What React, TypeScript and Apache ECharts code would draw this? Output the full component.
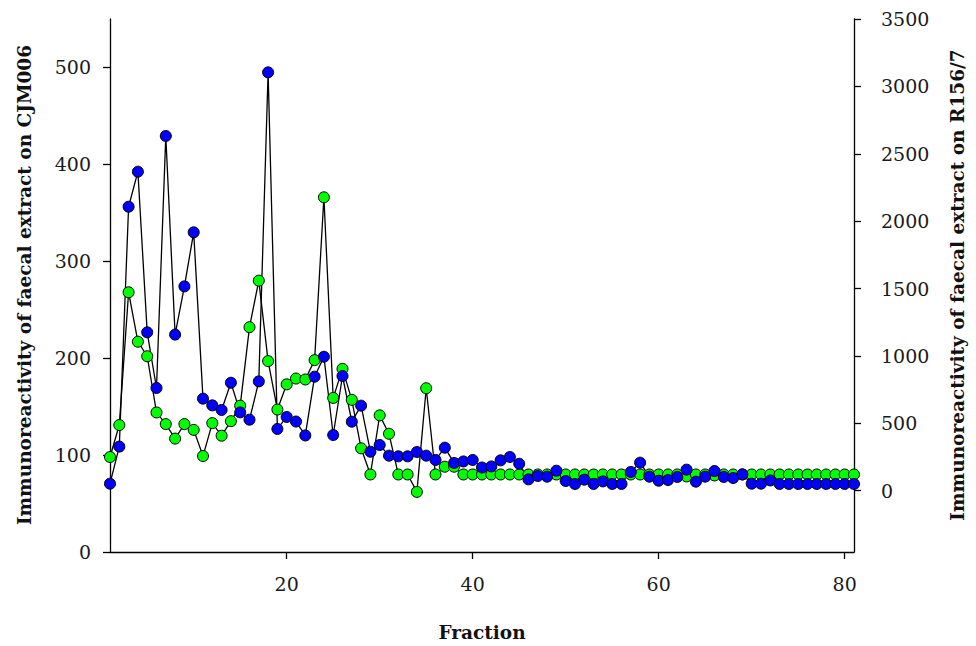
import React, { useEffect, useRef } from "react";
import * as echarts from "echarts";

const fractions = [
  1, 2, 3, 4, 5, 6, 7, 8, 9, 10, 11, 12, 13, 14, 15, 16, 17, 18, 19, 20,
  21, 22, 23, 24, 25, 26, 27, 28, 29, 30, 31, 32, 33, 34, 35, 36, 37, 38, 39, 40,
  41, 42, 43, 44, 45, 46, 47, 48, 49, 50, 51, 52, 53, 54, 55, 56, 57, 58, 59, 60,
  61, 62, 63, 64, 65, 66, 67, 68, 69, 70, 71, 72, 73, 74, 75, 76, 77, 78, 79, 80, 81,
];

// Immunoreactivity on CJM006 (left axis) – green
const cjm006 = [
  98, 131, 268, 217, 202, 144, 132, 117, 132, 126, 99, 133, 120, 135, 151, 232, 280, 197, 147, 173,
  179, 178, 198, 366, 159, 189, 157, 107, 80, 141, 122, 80, 80, 62, 169, 80, 88, 88, 80, 80,
  80, 80, 80, 80, 80, 80, 80, 80, 80, 80, 80, 80, 80, 80, 80, 80, 80, 80, 80, 80,
  80, 80, 78, 80, 80, 79, 80, 80, 80, 80, 80, 80, 80, 80, 80, 80, 80, 80, 80, 80, 80,
];

// Immunoreactivity on R156/7 (right axis) – blue
const r1567 = [
  52, 327, 2107, 2367, 1175, 762, 2632, 1158, 1516, 1917, 683, 633, 599, 801, 581, 527, 811, 3104, 458, 547,
  513, 410, 846, 994, 413, 851, 512, 631, 289, 339, 260, 255, 255, 287, 260, 228, 319, 206, 217, 228,
  172, 180, 225, 250, 200, 84, 109, 104, 148, 72, 50, 82, 50, 69, 50, 50, 139, 208, 104, 74,
  79, 102, 156, 67, 104, 146, 102, 94, 121, 52, 52, 76, 50, 50, 50, 50, 50, 50, 50, 50, 50,
];

const leftTicks = [0, 100, 200, 300, 400, 500];
const rightTicks = [0, 500, 1000, 1500, 2000, 2500, 3000, 3500];
const xTicks = [20, 40, 60, 80];

const leftTitle = "Immunoreactivity of faecal extract on CJM006";
const rightTitle = "Immunoreactivity of faecal extract on R156/7";
const xTitle = "Fraction";

const FONT = "'DejaVu Serif', serif";

export default function App() {
  const ref = useRef<HTMLDivElement>(null);
  useEffect(() => {
    document.body.style.margin = "0";
    if (!ref.current) return;
    const chart = echarts.init(ref.current, null, { renderer: "svg" });
    const axisLine = { show: true, lineStyle: { color: "#000", width: 1.3 } };
    const labelStyle = {
      color: "#1a1a1a",
      fontFamily: FONT,
      fontSize: 19,
      formatter: (v: number) => String(v),
    };
    const titleFont = `bold 18.5px ${FONT}`;
    chart.setOption({
      animation: false,
      backgroundColor: "#fff",
      grid: { left: 110, right: 122, top: 19, bottom: 94 },
      xAxis: {
        type: "value",
        min: 1,
        max: 81,
        axisLine,
        axisTick: { show: true, length: 7, customValues: xTicks, lineStyle: { color: "#000", width: 1.3 } },
        axisLabel: { ...labelStyle, margin: 22, customValues: xTicks },
        splitLine: { show: false },
      },
      yAxis: [
        {
          type: "value",
          position: "left",
          min: 0,
          max: 550,
          axisLine,
          axisTick: { show: true, length: 7, customValues: leftTicks, lineStyle: { color: "#000", width: 1.3 } },
          axisLabel: { ...labelStyle, margin: 19, customValues: leftTicks },
          splitLine: { show: false },
        },
        {
          type: "value",
          position: "right",
          min: -455,
          max: 3500,
          axisLine,
          axisTick: { show: true, length: 7, customValues: rightTicks, lineStyle: { color: "#000", width: 1.3 } },
          axisLabel: { ...labelStyle, margin: 27, customValues: rightTicks },
          splitLine: { show: false },
        },
      ],
      graphic: [
        {
          type: "text",
          x: 24,
          y: 285,
          rotation: Math.PI / 2,
          style: { text: leftTitle, font: titleFont, fill: "#111", align: "center", verticalAlign: "middle" },
        },
        {
          type: "text",
          x: 957,
          y: 285,
          rotation: Math.PI / 2,
          style: { text: rightTitle, font: titleFont, fill: "#111", align: "center", verticalAlign: "middle" },
        },
        {
          type: "text",
          x: 482,
          y: 632,
          style: { text: xTitle, font: titleFont, fill: "#111", align: "center", verticalAlign: "middle" },
        },
      ],
      series: [
        {
          name: "CJM006",
          type: "line",
          yAxisIndex: 0,
          data: fractions.map((f, i) => [f, cjm006[i]]),
          symbol: "circle",
          symbolSize: 11,
          showAllSymbol: true,
          lineStyle: { color: "#000", width: 1.3 },
          itemStyle: { color: "#00ff00", borderColor: "#000", borderWidth: 1 },
        },
        {
          name: "R156/7",
          type: "line",
          yAxisIndex: 1,
          data: fractions.map((f, i) => [f, r1567[i]]),
          symbol: "circle",
          symbolSize: 11,
          showAllSymbol: true,
          lineStyle: { color: "#000", width: 1.3 },
          itemStyle: { color: "#0000ff", borderColor: "#000", borderWidth: 1 },
        },
      ],
    });
    return () => chart.dispose();
  }, []);
  return <div ref={ref} style={{ width: 976, height: 646 }} />;
}
